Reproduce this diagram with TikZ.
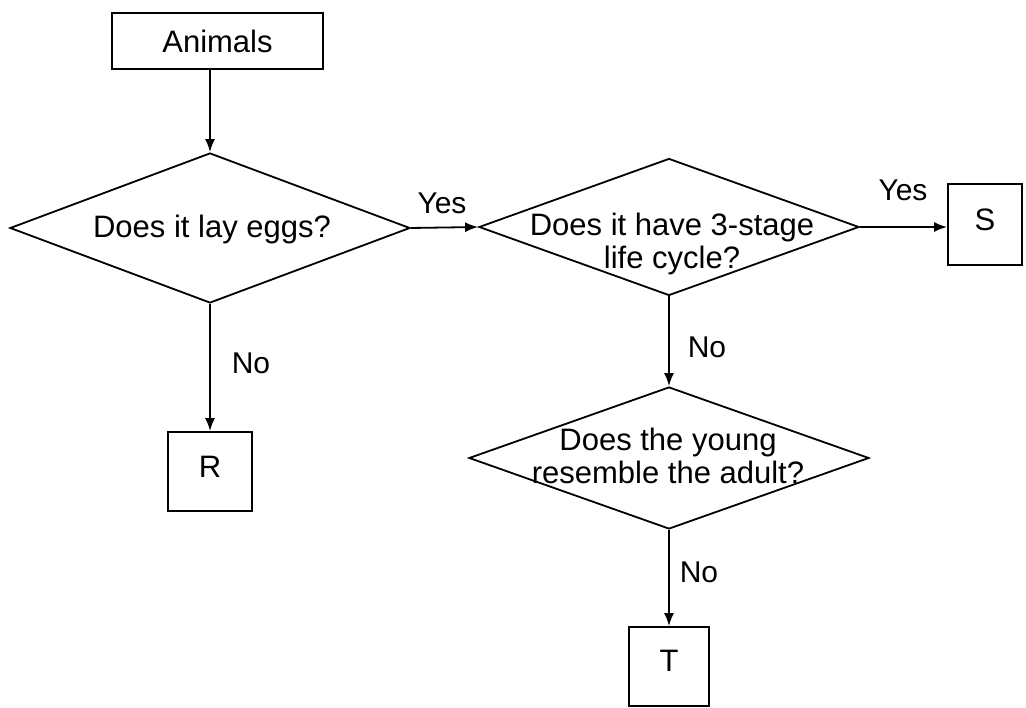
\documentclass[tikz,border=0pt]{standalone}
\usepackage{fontspec}
\setmainfont{Liberation Sans}
\usetikzlibrary{shapes.geometric,arrows.meta}

\tikzset{every picture/.style={line width=1.8pt}}
\tikzset{
  box/.style={draw, rectangle, inner sep=0pt, font=\fontsize{31}{34}\selectfont},
  decision/.style={draw, diamond, inner sep=0pt},
  qtext/.style={align=center, font=\fontsize{31}{33}\selectfont},
  lbl/.style={font=\fontsize{30}{33}\selectfont},
  arr/.style={-{Latex[length=13pt,width=10pt]}}
}

\begin{document}
\begin{tikzpicture}[x=1pt,y=1pt,yscale=-1,xscale=1]
\useasboundingbox[fill=white] (0,0) rectangle (1026,708);

%Shape: Rectangle
\node[box, minimum width=211pt, minimum height=56pt] (animals) at (217.5,41) {Animals};
%Shape: Diamond
\node[decision, minimum width=400pt, minimum height=150pt] (lay) at (210,228) {};
%Shape: Diamond
\node[decision, minimum width=380pt, minimum height=137pt] (stage) at (669,227) {};
%Shape: Diamond
\node[decision, minimum width=400pt, minimum height=142pt] (young) at (669,458) {};
%Shape: Rectangle
\node[box, minimum width=84pt, minimum height=79pt] (r) at (210,471.5) {\raisebox{10pt}{R}};
%Shape: Rectangle
\node[box, minimum width=74pt, minimum height=81pt] (s) at (985,224.5) {\raisebox{10pt}{S}};
%Shape: Rectangle
\node[box, minimum width=80pt, minimum height=79pt] (t) at (669,666.5) {\raisebox{11pt}{T}};

% Text Node
\node[qtext] (layq) at (212,229) {Does it lay eggs?};
% Text Node
\node[qtext] (stageq) at (672,244) {Does it have 3-stage\\life cycle?};
% Text Node
\node[qtext] (youngq) at (668,456) {Does the young\\resemble the adult?};

%Straight Lines
\draw[arr] (lay.north |- animals.south) -- (lay.north);
\draw[arr] (lay.east) -- (stage.west);
\draw[arr] (stage.east) -- (stage.east -| s.west);
\draw[arr] (lay.south) -- (r.north);
\draw[arr] (stage.south) -- (young.north);
\draw[arr] (young.south) -- (t.north);

% Text Node
\node[lbl] (yesA) at (442,203) {Yes};
% Text Node
\node[lbl] (yesB) at (903,190) {Yes};
% Text Node
\node[lbl] (noA) at (251,363) {No};
% Text Node
\node[lbl] (noB) at (707,347) {No};
% Text Node
\node[lbl] (noC) at (699,572) {No};

\end{tikzpicture}
\end{document}
